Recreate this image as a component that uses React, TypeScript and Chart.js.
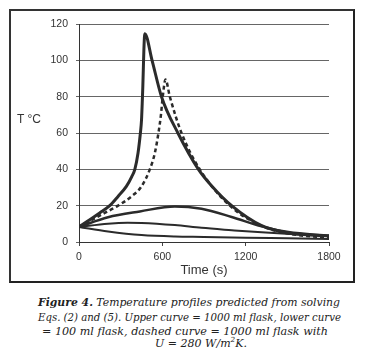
import React, { useEffect, useLayoutEffect, useRef } from "react";
import { Chart, registerables } from "chart.js";

Chart.register(...registerables);

// Upper curve = 1000 ml flask
const upperTime = [0, 149, 221, 281, 341, 380, 402, 425, 442, 450, 457, 474, 526, 594, 712, 860, 954, 1099, 1315, 1507, 1800];
const upperTemp = [8.3, 16, 20, 25.1, 30.6, 36, 40, 49, 60, 67, 80, 114.7, 100, 80, 60, 40, 31, 20, 9, 5, 3.4];

// Dashed curve = 1000 ml flask with U = 280 W/m²K
const dashedTime = [0, 185, 281, 378, 450, 510, 546, 572, 590, 603, 623, 654, 738, 870, 1086, 1326, 1519, 1800];
const dashedTemp = [8.3, 16, 20, 25.1, 30.6, 40, 49, 60, 70, 80, 89.4, 80, 60, 40, 20, 8.5, 4.5, 2.2];

// Middle curve
const middleTime = [0, 209, 438, 690, 882, 1099, 1315, 1507, 1800];
const middleTemp = [8.3, 13.6, 16.8, 19.6, 18.3, 13.8, 8.6, 5.5, 3.4];

// Lower rising curve
const lowerTime = [0, 209, 350, 450, 690, 882, 1100, 1315, 1550, 1800];
const lowerTemp = [8.3, 10.1, 10.6, 10.5, 9.3, 7.8, 6.5, 5.3, 4.2, 3.2];

// Lowest curve = 100 ml flask
const lowestTime = [0, 209, 450, 690, 900, 1200, 1500, 1800];
const lowestTemp = [8.3, 5.8, 3.8, 3.0, 2.8, 2.4, 2.0, 1.6];

const xTicks = [0, 600, 1200, 1800];
const yTicks = [0, 20, 40, 60, 80, 100, 120];

const captionLines = [
  "Temperature profiles predicted from solving",
  "Eqs. (2) and (5). Upper curve = 1000 ml flask, lower curve",
  "= 100 ml flask, dashed curve = 1000 ml flask with",
];

const toPts = (xs: number[], ys: number[]) => xs.map((x, i) => ({ x, y: ys[i] }));

function FitLine(props: { left: number; top: number; width: number; children: React.ReactNode }) {
  const r = useRef<HTMLDivElement | null>(null);
  useLayoutEffect(() => {
    const el = r.current;
    if (!el) return;
    el.style.transform = "none";
    const w = el.getBoundingClientRect().width;
    if (w > 0) el.style.transform = `scaleX(${props.width / w})`;
  }, [props.width]);
  return (
    <div
      ref={r}
      style={{
        position: "absolute",
        left: props.left,
        top: props.top,
        whiteSpace: "nowrap",
        fontFamily: "'DejaVu Serif', serif",
        fontStyle: "italic",
        fontSize: 10.6,
        color: "#222",
        lineHeight: "14px",
        transformOrigin: "0 0",
        display: "inline-block",
      }}
    >
      {props.children}
    </div>
  );
}

export default function App() {
  const ref = useRef<HTMLCanvasElement | null>(null);

  useEffect(() => {
    if (!ref.current) return;
    const lineColor = "#2b2b2b";
    const base = {
      fill: false,
      pointRadius: 0,
      cubicInterpolationMode: "monotone" as const,
      borderColor: lineColor,
    };
    const chart = new Chart(ref.current, {
      type: "line",
      data: {
        datasets: [
          { ...base, label: "upper", data: toPts(upperTime, upperTemp), borderWidth: 3 },
          { ...base, label: "dashed", data: toPts(dashedTime, dashedTemp), borderWidth: 2.5, borderDash: [4, 3] },
          { ...base, label: "middle", data: toPts(middleTime, middleTemp), borderWidth: 2.5 },
          { ...base, label: "lower", data: toPts(lowerTime, lowerTemp), borderWidth: 2 },
          { ...base, label: "lowest", data: toPts(lowestTime, lowestTemp), borderWidth: 2 },
        ],
      },
      options: {
        animation: false,
        responsive: false,
        maintainAspectRatio: false,
        layout: { padding: { left: 0, right: 49, top: 24, bottom: 0 } },
        plugins: { legend: { display: false }, tooltip: { enabled: false } },
        scales: {
          x: {
            type: "linear",
            min: 0,
            max: 1800,
            afterFit: (s: any) => { s.height = 48; },
            afterBuildTicks: (s: any) => { s.ticks = xTicks.map((v) => ({ value: v })); },
            grid: { drawOnChartArea: false, drawTicks: true, tickLength: 4, color: "#444" },
            border: { color: "#333", width: 1 },
            ticks: {
              color: "#333",
              font: { family: "Liberation Sans, Arial", size: 10.5 },
              padding: 5,
              maxRotation: 0,
              callback: (v: any) => String(v),
            },
            title: {
              display: true,
              text: "Time (s)",
              color: "#333",
              font: { family: "Liberation Sans, Arial", size: 13 },
              padding: { top: 0, bottom: 12 },
            },
          },
          y: {
            type: "linear",
            min: 0,
            max: 120,
            afterFit: (s: any) => { s.width = 79; },
            afterBuildTicks: (s: any) => { s.ticks = yTicks.map((v) => ({ value: v })); },
            grid: { color: "#666", lineWidth: 1, drawTicks: true, tickLength: 3 },
            border: { color: "#333", width: 1 },
            ticks: {
              color: "#333",
              font: { family: "Liberation Sans, Arial", size: 10.5 },
              padding: 8,
              callback: (v: any) => String(v),
            },
          },
        },
      },
    });
    return () => chart.destroy();
  }, []);

  return (
    <div style={{ position: "absolute", left: 0, top: 0, width: 378, height: 362, background: "#fff", overflow: "hidden" }}>
      <div
        style={{
          position: "absolute",
          left: 9,
          top: 9,
          width: 342,
          height: 270,
          borderLeft: "2px solid #333",
          borderTop: "2px solid #333",
          borderRight: "2px solid #222",
          borderBottom: "2px solid #222",
        }}
      />
      <canvas ref={ref} width={378} height={290} style={{ position: "absolute", left: 0, top: 0, width: 378, height: 290 }} />
      <div style={{ position: "absolute", left: 17, top: 111, fontFamily: "Liberation Sans, Arial", fontSize: 12, color: "#333", lineHeight: "16px" }}>
        T °C
      </div>
      <FitLine left={38} top={295} width={302}>
        <b>Figure 4.</b> {captionLines[0]}
      </FitLine>
      <FitLine left={38} top={310} width={303}>{captionLines[1]}</FitLine>
      <FitLine left={42} top={324} width={286}>{captionLines[2]}</FitLine>
      <FitLine left={155} top={336} width={92}>
        U = 280 W/m<sup style={{ fontSize: 7, lineHeight: 0 }}>2</sup>K.
      </FitLine>
    </div>
  );
}
